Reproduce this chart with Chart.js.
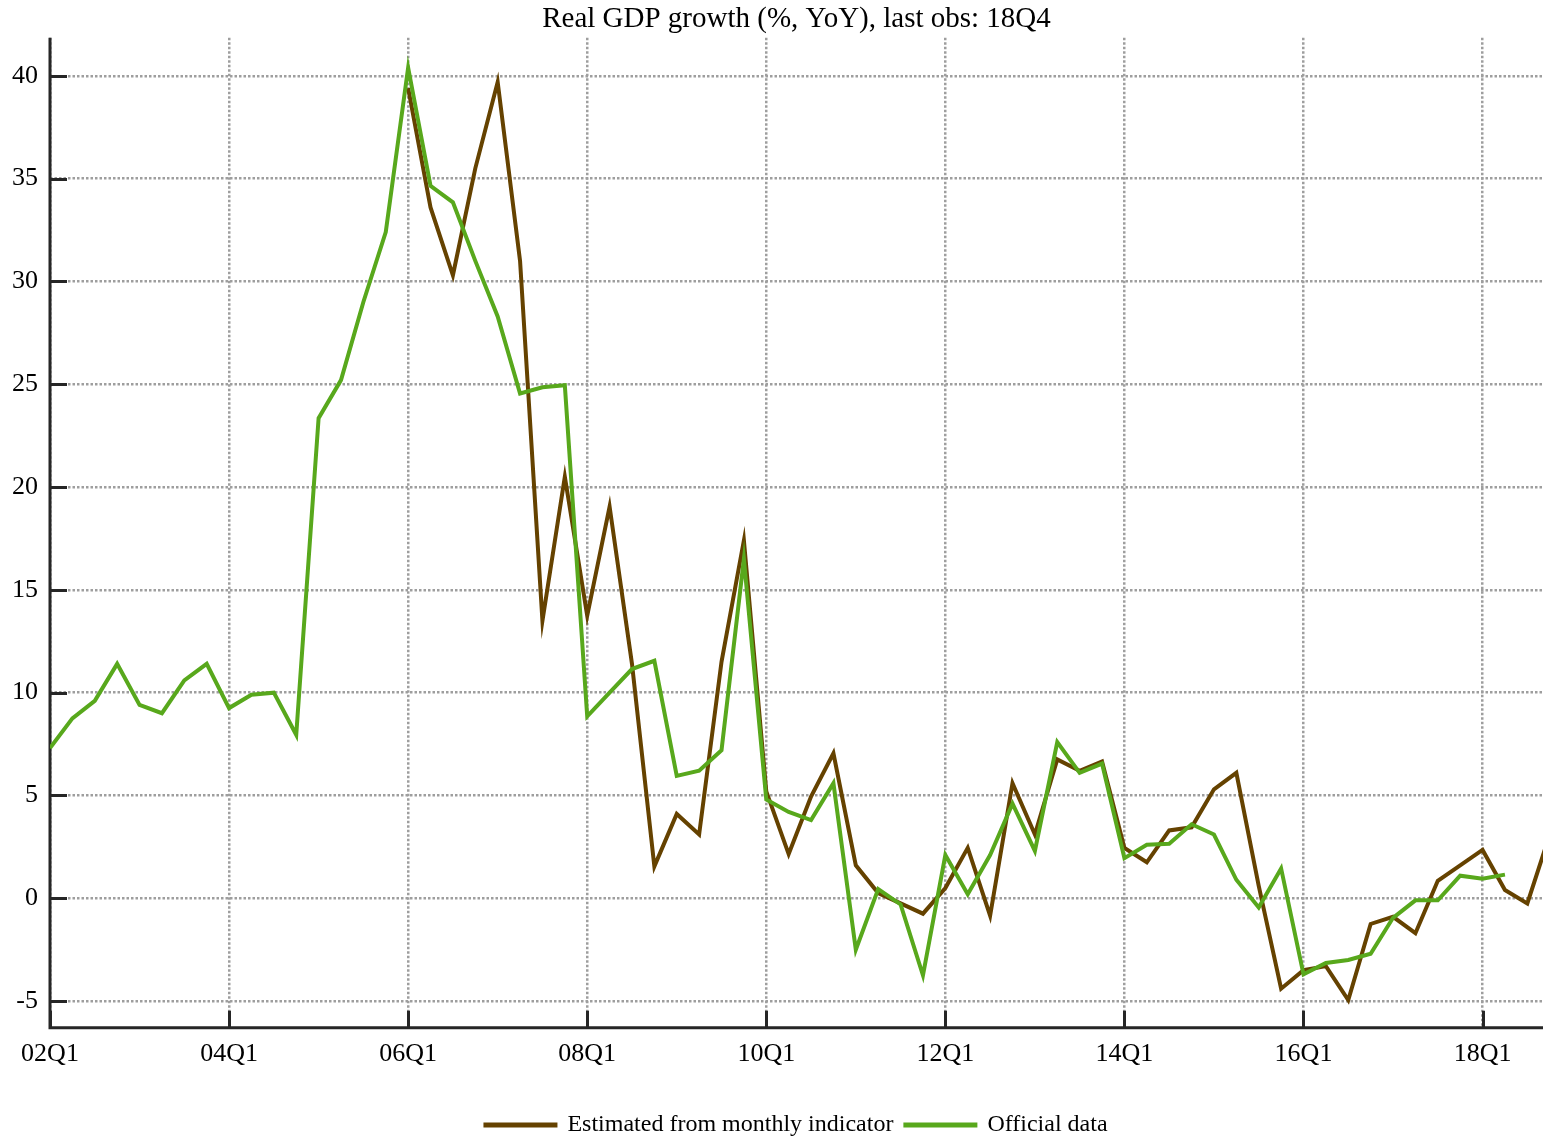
<!DOCTYPE html>
<html>
<head>
<meta charset="utf-8">
<script src="https://cdn.jsdelivr.net/npm/chart.js@4/dist/chart.umd.min.js"></script>
<style>
  html, body { margin: 0; padding: 0; background: #ffffff; }
  #wrap { width: 1543px; height: 1141px; }
</style>
</head>
<body>
<div id="wrap"><canvas id="c" width="1543" height="1141"></canvas></div>
<script>
// ---------- data ----------
const quarters = [
  '02Q1','02Q2','02Q3','02Q4','03Q1','03Q2','03Q3','03Q4',
  '04Q1','04Q2','04Q3','04Q4','05Q1','05Q2','05Q3','05Q4',
  '06Q1','06Q2','06Q3','06Q4','07Q1','07Q2','07Q3','07Q4',
  '08Q1','08Q2','08Q3','08Q4','09Q1','09Q2','09Q3','09Q4',
  '10Q1','10Q2','10Q3','10Q4','11Q1','11Q2','11Q3','11Q4',
  '12Q1','12Q2','12Q3','12Q4','13Q1','13Q2','13Q3','13Q4',
  '14Q1','14Q2','14Q3','14Q4','15Q1','15Q2','15Q3','15Q4',
  '16Q1','16Q2','16Q3','16Q4','17Q1','17Q2','17Q3','17Q4',
  '18Q1','18Q2','18Q3','18Q4'
];

// Estimated from monthly indicator (starts 06Q1)
const estimated = [
  null, null, null, null, null, null, null, null,
  null, null, null, null, null, null, null, null,
  39.4, 33.6, 30.3, 35.5, 39.7, 31.0, 13.5, 20.5,
  13.75, 19.05, 11.4, 1.55, 4.1, 3.1, 11.5, 17.4,
  5.2, 2.15, 4.95, 7.05, 1.6, 0.25, -0.25, -0.75,
  0.5, 2.45, -0.85, 5.6, 3.1, 6.75, 6.2, 6.65,
  2.45, 1.75, 3.3, 3.45, 5.3, 6.1, 0.6, -4.4,
  -3.5, -3.3, -4.95, -1.25, -0.9, -1.7, 0.85, 1.6,
  2.35, 0.4, -0.25, 3.1
];

// Official data (ends 18Q2)
const official = [
  7.3, 8.75, 9.6, 11.4, 9.4, 9.0, 10.6, 11.4,
  9.25, 9.9, 10.0, 7.95, 23.35, 25.2, 29.0, 32.4,
  40.4, 34.65, 33.85, 31.0, 28.3, 24.55, 24.85, 24.95,
  8.85, 10.0, 11.15, 11.55, 5.95, 6.2, 7.2, 16.5,
  4.8, 4.2, 3.8, 5.6, -2.5, 0.45, -0.3, -3.75,
  2.1, 0.2, 2.1, 4.6, 2.3, 7.6, 6.1, 6.55,
  1.95, 2.6, 2.65, 3.6, 3.1, 0.9, -0.45, 1.45,
  -3.7, -3.15, -3.0, -2.7, -0.95, -0.1, -0.1, 1.1,
  0.95, 1.15
];

const xTickLabels = ['02Q1','04Q1','06Q1','08Q1','10Q1','12Q1','14Q1','16Q1','18Q1'];
const yTicks = [-5, 0, 5, 10, 15, 20, 25, 30, 35, 40];
const seriesNames = ['Estimated from monthly indicator', 'Official data'];
const titleText = 'Real GDP growth (%, YoY), last obs: 18Q4';

// ---------- chart ----------
const xTickPositions = xTickLabels.map(l => quarters.indexOf(l));
const toPoints = arr => arr.map((v, i) => ({ x: i, y: v }));

const SERIF = "'Liberation Serif', 'Times New Roman', Times, serif";
const AXIS_COLOR = '#262626';
const BROWN = '#654200';
const GREEN = '#58a81c';

const innerAxes = {
  id: 'innerAxes',
  beforeDatasetsDraw(chart) {
    const { ctx, chartArea: a, scales: { x, y } } = chart;
    ctx.save();
    ctx.strokeStyle = AXIS_COLOR;
    ctx.lineWidth = 3;
    ctx.setLineDash([]);
    ctx.lineCap = 'butt';
    ctx.beginPath();
    ctx.moveTo(a.left, a.top);
    ctx.lineTo(a.left, a.bottom);
    ctx.moveTo(a.left - 1.5, a.bottom);
    ctx.lineTo(a.right, a.bottom);
    ctx.stroke();
    ctx.beginPath();
    yTicks.forEach(v => {
      const py = Math.round(y.getPixelForValue(v)) + 0.5;
      ctx.moveTo(a.left, py);
      ctx.lineTo(a.left + 17, py);
    });
    xTickPositions.forEach(v => {
      const px = Math.round(x.getPixelForValue(v)) + 0.5;
      ctx.moveTo(px, a.bottom);
      ctx.lineTo(px, a.bottom - 17);
    });
    ctx.stroke();
    ctx.restore();
  }
};

new Chart(document.getElementById('c'), {
  type: 'line',
  data: {
    datasets: [
      {
        label: seriesNames[0],
        data: toPoints(estimated),
        borderColor: BROWN,
        backgroundColor: BROWN,
        borderWidth: 4,
        pointRadius: 0,
        tension: 0,
        spanGaps: false,
        order: 1
      },
      {
        label: seriesNames[1],
        data: toPoints(official),
        borderColor: GREEN,
        backgroundColor: GREEN,
        borderWidth: 4,
        pointRadius: 0,
        tension: 0,
        order: 0
      }
    ]
  },
  options: {
    responsive: false,
    animation: false,
    devicePixelRatio: 1,
    layout: { padding: { left: 0, right: 0, top: 0, bottom: -6 } },
    scales: {
      x: {
        type: 'linear',
        min: 0,
        max: 66.7,
        afterBuildTicks: s => { s.ticks = xTickPositions.map(v => ({ value: v })); },
        afterFit: s => { s.height += 20; },
        ticks: {
          autoSkip: false,
          maxRotation: 0,
          padding: 11,
          color: '#000',
          font: { family: SERIF, size: 26 },
          callback: v => quarters[v]
        },
        grid: {
          color: '#9e9e9e',
          lineWidth: 2.5,
          drawTicks: false
        },
        border: { display: false, dash: [2.5, 2] }
      },
      y: {
        type: 'linear',
        min: -6.3,
        max: 41.85,
        afterBuildTicks: s => { s.ticks = yTicks.map(v => ({ value: v })); },
        afterFit: s => { s.width = 50; },
        ticks: {
          padding: 12,
          color: '#000',
          font: { family: SERIF, size: 26 },
          callback: v => String(v)
        },
        grid: {
          color: '#9e9e9e',
          lineWidth: 2.5,
          drawTicks: false
        },
        border: { display: false, dash: [2.5, 2] }
      }
    },
    plugins: {
      title: {
        display: true,
        fullSize: false,
        text: titleText,
        color: '#000',
        font: { family: SERIF, size: 29, weight: 'normal' },
        padding: { top: 2, bottom: 1 }
      },
      legend: {
        display: true,
        position: 'bottom',
        fullSize: false,
        labels: {
          color: '#000',
          font: { family: SERIF, size: 24 },
          boxWidth: 70,
          boxHeight: 1,
          padding: 12,
          sort: (a, b) => a.datasetIndex - b.datasetIndex
        }
      },
      tooltip: { enabled: false }
    }
  },
  plugins: [innerAxes]
});
</script>
</body>
</html>
